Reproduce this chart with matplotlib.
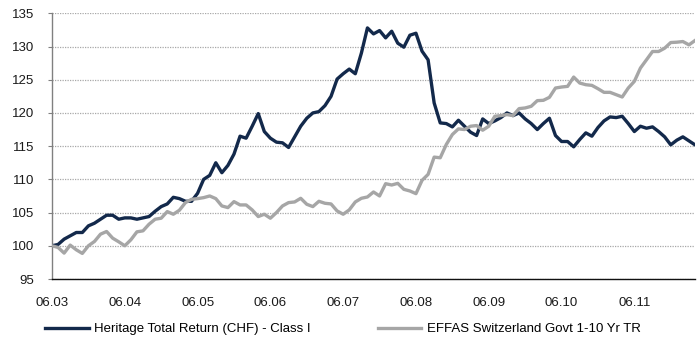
import numpy as np
import matplotlib
matplotlib.use("Agg")
import matplotlib.pyplot as plt

plt.rcParams['font.family'] = ['Liberation Sans', 'DejaVu Sans']

# monthly index values, starting 06.03
heritage = [100.0, 100.2, 101.0, 101.5, 102.0, 102.0, 103.0, 103.4, 104.0, 104.6, 104.6, 104.0,
            104.2, 104.2, 104.0, 104.2, 104.4, 105.2, 105.9, 106.3, 107.3, 107.1, 106.7, 106.7,
            107.9, 110.0, 110.6, 112.5, 111.0, 112.1, 113.8, 116.5,
            116.2, 118.0, 119.9, 117.2, 116.2, 115.6, 115.5, 114.8, 116.4, 118.0, 119.2, 120.0,
            120.2, 121.1, 122.5, 125.1, 125.9, 126.6, 125.9, 129.0, 132.8, 131.9, 132.4, 131.3,
            132.3, 130.5, 129.9, 131.7, 132.0, 129.3, 128.0, 121.5, 118.5, 118.4, 117.9, 118.9,
            118.0, 117.1,
            116.6, 119.1, 118.4, 118.8, 119.3, 120.0, 119.6, 120.0, 119.1, 118.4, 117.5, 118.4,
            119.2, 116.6, 115.7, 115.7, 114.9, 116.0, 117.0, 116.5, 117.8, 118.8, 119.4, 119.3,
            119.5, 118.4, 117.2, 118.0, 117.7, 117.9, 117.2, 116.4, 115.2, 115.9, 116.4, 115.8,
            115.2]

effas = [100.0, 99.75, 98.9, 100.1, 99.4, 98.85, 100.0, 100.65, 101.75, 102.15, 101.15, 100.6,
         100.0, 100.9, 102.1, 102.25, 103.25, 104.0, 104.15, 105.15, 104.75, 105.35, 106.5, 107.0,
         107.1, 107.25, 107.5, 107.1, 106.0, 105.75, 106.65, 106.15,
         106.15, 105.4, 104.4, 104.75, 104.15, 105.0, 106.0, 106.5, 106.6, 107.15, 106.25, 105.9,
         106.7, 106.4, 106.3, 105.25, 104.75, 105.4, 106.6, 107.15, 107.35, 108.1, 107.5, 109.35,
         109.15, 109.4, 108.5, 108.25, 107.85, 109.85, 110.75, 113.35, 113.25, 115.25, 116.75, 117.6,
         117.5, 118.0,
         118.1, 117.4, 118.0, 119.5, 119.6, 119.75, 119.6, 120.65, 120.75, 121.0, 121.85, 121.9,
         122.35, 123.75, 123.9, 124.0, 125.4, 124.5, 124.25, 124.15, 123.65, 123.1, 123.1, 122.75,
         122.4, 123.75, 124.75, 126.75, 128.0, 129.25, 129.25, 129.75, 130.6, 130.65, 130.75, 130.25,
         130.9]

tick_labels = ['06.03', '06.04', '06.05', '06.06', '06.07', '06.08', '06.09', '06.10', '06.11']
tick_pos = [0, 12, 24, 36, 48, 60, 72, 84, 96]

names = ['Heritage Total Return (CHF) - Class I', 'EFFAS Switzerland Govt 1-10 Yr TR']
colors = ['#13294b', '#a6a6a6']

x = np.arange(len(heritage))

fig = plt.figure(figsize=(7, 3.38), dpi=100)
ax = fig.add_axes([52/700, 1 - 279/338, (695 - 52)/700, (279 - 13.3)/338])

ax.plot(x, heritage, color=colors[0], lw=2.4, solid_joinstyle='round', label=names[0], zorder=3)
ax.plot(x, effas, color=colors[1], lw=2.4, solid_joinstyle='round', label=names[1], zorder=4)

ax.set_xlim(0, len(heritage) - 1)
ax.set_ylim(95, 135)
ax.set_yticks(np.arange(95, 136, 5))
ax.set_xticks(tick_pos)
ax.set_xticklabels(tick_labels)

ax.grid(axis='y', color='#a8a8a8', linestyle=(0, (1, 1)), linewidth=0.9, zorder=0)
ax.set_axisbelow(True)

for s in ['top', 'right']:
    ax.spines[s].set_visible(False)
ax.spines['left'].set_color('#808080')
ax.spines['left'].set_linewidth(1.0)
ax.spines['bottom'].set_color('#111111')
ax.spines['bottom'].set_linewidth(1.0)

ax.tick_params(axis='y', length=3, width=0.8, color='#808080', pad=10, labelsize=9.5, labelcolor='#1a1a1a')
ax.tick_params(axis='x', length=0, pad=13, labelsize=9.5, labelcolor='#1a1a1a')

fig.legend(loc='center left', bbox_to_anchor=(45/700, 9/338), ncol=2, frameon=False,
           fontsize=9.5, handlelength=3.3, handletextpad=0.4, columnspacing=5.1,
           borderpad=0, borderaxespad=0)

fig.savefig('out.png', dpi=100)
